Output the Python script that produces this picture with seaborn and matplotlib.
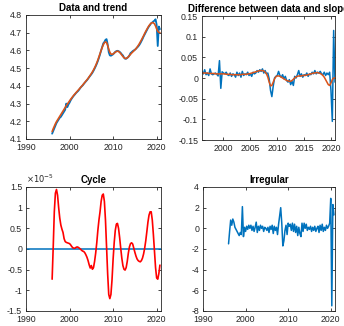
import numpy as np
import pandas as pd
import matplotlib
matplotlib.use("Agg")
import matplotlib.pyplot as plt
import seaborn as sns
from matplotlib.ticker import FuncFormatter, MultipleLocator

# Quarterly sample 1996Q1 - 2020Q4
quarter_time = 1996 + np.arange(100) / 4

log_data = [
    4.130, 4.145, 4.160, 4.175,
    4.190, 4.200, 4.210, 4.220,
    4.225, 4.235, 4.245, 4.255,
    4.265, 4.300, 4.280, 4.295,
    4.305, 4.318, 4.328, 4.337,
    4.345, 4.352, 4.360, 4.366,
    4.372, 4.380, 4.389, 4.396,
    4.402, 4.410, 4.418, 4.425,
    4.432, 4.440, 4.449, 4.457,
    4.465, 4.474, 4.485, 4.497,
    4.510, 4.524, 4.540, 4.558,
    4.578, 4.600, 4.620, 4.640,
    4.648, 4.660, 4.664, 4.635,
    4.590, 4.572, 4.570, 4.574,
    4.578, 4.585, 4.592, 4.596,
    4.598, 4.596, 4.592, 4.586,
    4.578, 4.572, 4.560, 4.553,
    4.553, 4.558, 4.563, 4.572,
    4.585, 4.590, 4.596, 4.600,
    4.604, 4.609, 4.616, 4.622,
    4.630, 4.640, 4.652, 4.664,
    4.678, 4.690, 4.702, 4.714,
    4.726, 4.736, 4.744, 4.754,
    4.758, 4.764, 4.768, 4.776,
    4.745, 4.625, 4.735, 4.720,
]

trend = [
    4.142, 4.158, 4.172, 4.186,
    4.198, 4.208, 4.218, 4.228,
    4.238, 4.248, 4.258, 4.268,
    4.278, 4.288, 4.297, 4.306,
    4.315, 4.324, 4.332, 4.340,
    4.348, 4.355, 4.362, 4.369,
    4.376, 4.383, 4.390, 4.397,
    4.404, 4.412, 4.419, 4.427,
    4.434, 4.442, 4.451, 4.460,
    4.469, 4.479, 4.490, 4.502,
    4.515, 4.530, 4.546, 4.564,
    4.582, 4.600, 4.617, 4.632,
    4.643, 4.648, 4.644, 4.628,
    4.607, 4.590, 4.580, 4.578,
    4.580, 4.585, 4.590, 4.594,
    4.596, 4.594, 4.589, 4.582,
    4.574, 4.566, 4.559, 4.555,
    4.555, 4.558, 4.564, 4.571,
    4.578, 4.585, 4.591, 4.597,
    4.603, 4.610, 4.618, 4.627,
    4.637, 4.648, 4.659, 4.671,
    4.683, 4.696, 4.708, 4.719,
    4.730, 4.740, 4.748, 4.754,
    4.757, 4.756, 4.750, 4.738,
    4.722, 4.708, 4.702, 4.700,
]

growth = [
    0.015, 0.010, 0.020, 0.008,
    0.012, 0.006, 0.022, 0.010,
    0.008, 0.010, 0.012, 0.009,
    0.005, 0.042, -0.025, 0.015,
    0.012, 0.010, 0.014, 0.008,
    0.006, 0.012, 0.004, 0.010,
    0.008, 0.002, 0.014, 0.006,
    0.012, 0.002, 0.016, 0.006,
    0.010, 0.008, 0.014, 0.006,
    0.010, 0.004, 0.014, 0.010,
    0.012, 0.018, 0.014, 0.020,
    0.016, 0.022, 0.012, 0.018,
    0.010, 0.012, -0.002, -0.030,
    -0.045, -0.020, 0.000, 0.004,
    0.006, 0.016, 0.006, 0.002,
    0.008, -0.002, 0.004, -0.006,
    -0.010, -0.004, -0.016, -0.008,
    -0.018, 0.004, 0.000, 0.008,
    0.018, 0.004, 0.010, 0.002,
    0.008, 0.006, 0.012, 0.004,
    0.010, 0.008, 0.014, 0.010,
    0.018, 0.010, 0.014, 0.012,
    0.016, 0.010, 0.008, 0.014,
    0.006, 0.012, 0.008, 0.014,
    -0.030, -0.105, 0.115, -0.010,
]

slope = [
    0.013, 0.012, 0.012, 0.012,
    0.012, 0.011, 0.011, 0.011,
    0.011, 0.011, 0.010, 0.010,
    0.010, 0.010, 0.010, 0.010,
    0.010, 0.010, 0.009, 0.009,
    0.009, 0.009, 0.008, 0.008,
    0.008, 0.008, 0.008, 0.008,
    0.008, 0.008, 0.009, 0.009,
    0.009, 0.009, 0.010, 0.010,
    0.011, 0.012, 0.013, 0.014,
    0.015, 0.016, 0.017, 0.018,
    0.018, 0.018, 0.017, 0.014,
    0.010, 0.002, -0.010, -0.019,
    -0.018, -0.010, -0.002, 0.003,
    0.005, 0.005, 0.004, 0.002,
    0.000, -0.002, -0.004, -0.006,
    -0.007, -0.008, -0.008, -0.006,
    -0.003, 0.000, 0.003, 0.004,
    0.005, 0.005, 0.005, 0.006,
    0.006, 0.007, 0.007, 0.008,
    0.009, 0.010, 0.011, 0.012,
    0.012, 0.013, 0.013, 0.012,
    0.011, 0.009, 0.006, 0.002,
    -0.004, -0.010, -0.016, -0.018,
    -0.012, -0.004, 0.000, 0.000,
]

# Cycle component, in units of 1e-5
cycle_e5 = [
    -0.73, 0.05, 0.90, 1.35,
    1.44, 1.30, 1.00, 0.75,
    0.58, 0.48, 0.40, 0.25,
    0.18, 0.16, 0.15, 0.14,
    0.13, 0.10, 0.06, 0.03,
    0.02, 0.02, 0.04, 0.05,
    0.04, 0.02, 0.00, -0.03,
    -0.05, -0.06, -0.09, -0.14,
    -0.20, -0.28, -0.38, -0.46,
    -0.40, -0.49, -0.45, -0.30,
    -0.10, 0.15, 0.45, 0.70,
    0.90, 1.15, 1.30, 1.33,
    1.15, 0.70, 0.05, -0.60,
    -1.10, -1.20, -1.10, -0.75,
    -0.25, 0.15, 0.45, 0.60,
    0.62, 0.50, 0.28, 0.02,
    -0.22, -0.40, -0.49, -0.51,
    -0.45, -0.30, -0.10, 0.05,
    0.13, 0.15, 0.12, 0.02,
    -0.08, -0.17, -0.24, -0.28,
    -0.30, -0.31, -0.28, -0.22,
    -0.12, 0.02, 0.20, 0.42,
    0.65, 0.82, 0.90, 0.90,
    0.70, 0.35, -0.05, -0.45,
    -0.70, -0.73, -0.60, -0.39,
]

irregular = [
    -1.5, -0.3, 0.8, 0.3,
    0.9, 0.6, 0.1, -0.1,
    -0.3, -0.5, -0.7, -0.4,
    -0.6, 2.1, -0.8, 0.1,
    -0.3, 0.2, -0.1, 0.3,
    0.0, 0.3, -0.2, 0.2,
    -0.3, 0.1, 0.6, -0.4,
    0.2, -0.2, 0.3, 0.0,
    0.2, -0.3, 0.1, 0.0,
    -0.2, 0.1, -0.4, 0.2,
    -0.1, 0.3, -0.5, 0.2,
    -0.2, 0.1, -0.6, 0.4,
    1.2, 2.0, 0.5, -1.7,
    -1.2, -0.2, 0.3, -0.6,
    0.5, 0.2, 0.4, -0.2,
    0.5, -0.3, 0.4, -0.4,
    0.2, -0.7, 0.1, -0.5,
    -0.8, 0.5, -0.3, 0.5,
    0.0, 0.4, -0.2, 0.1,
    -0.1, 0.2, -0.3, 0.1,
    -0.2, 0.2, -0.3, 0.0,
    0.2, -0.4, 0.3, -0.2,
    0.4, -0.3, 0.1, -0.2,
    0.3, 0.0, 0.2, 0.5,
    2.9, -7.5, 2.3, 1.3,
]

BLUE = "#0072BD"
ORANGE = "#D95319"
RED = "#FF0000"
AXCOL = "#262626"

sns.set_style("ticks")
plt.rcParams["font.family"] = ["Liberation Sans", "DejaVu Sans"]
plt.rcParams["axes.unicode_minus"] = False

df = pd.DataFrame({
    "t": quarter_time,
    "data": log_data,
    "trend": trend,
    "growth": growth,
    "slope": slope,
    "cycle": np.array(cycle_e5) * 1e-5,
    "irregular": irregular,
})

fig = plt.figure(figsize=(3.44, 3.26), dpi=100)
ax1 = fig.add_axes([26 / 344, 1 - 139 / 326, 135 / 344, 124 / 326])
ax2 = fig.add_axes([202 / 344, 1 - 140 / 326, 133 / 344, 124 / 326])
ax3 = fig.add_axes([26 / 344, 1 - 311 / 326, 135 / 344, 124 / 326])
ax4 = fig.add_axes([203 / 344, 1 - 311 / 326, 132 / 344, 124 / 326])

fmt = FuncFormatter(lambda v, p: "%g" % round(v, 6))


def style(ax, title):
    ax.set_title(title, fontsize=7, fontweight="bold", pad=3, color="black")
    ax.tick_params(direction="in", length=2.5, width=0.6, labelsize=6.3,
                   colors=AXCOL, top=True, right=True)
    ax.tick_params(axis="x", pad=3.2)
    ax.tick_params(axis="y", pad=2.8)
    for s in ax.spines.values():
        s.set_color(AXCOL)
        s.set_linewidth(0.6)
    ax.set_xlabel("")
    ax.set_ylabel("")


# Data and trend
sns.lineplot(data=df, x="t", y="data", ax=ax1, color=BLUE, lw=1.3)
sns.lineplot(data=df, x="t", y="trend", ax=ax1, color=ORANGE, lw=1.2)
ax1.set_xlim(1990, 2021)
ax1.set_ylim(4.1, 4.8)
ax1.xaxis.set_major_locator(MultipleLocator(10))
ax1.yaxis.set_major_locator(MultipleLocator(0.1))
ax1.yaxis.set_major_formatter(fmt)
style(ax1, "Data and trend")

# Growth vs. slope
sns.lineplot(data=df, x="t", y="growth", ax=ax2, color=BLUE, lw=1.1)
sns.lineplot(data=df, x="t", y="slope", ax=ax2, color=ORANGE, lw=1.1)
ax2.set_xlim(1996, 2020.75)
ax2.set_ylim(-0.15, 0.15)
ax2.xaxis.set_major_locator(MultipleLocator(5))
ax2.yaxis.set_major_locator(MultipleLocator(0.05))
ax2.yaxis.set_major_formatter(fmt)
style(ax2, "Difference between data and slope")

# Cycle
ax3.axhline(0, color=BLUE, lw=1.1, zorder=1)
sns.lineplot(data=df, x="t", y="cycle", ax=ax3, color=RED, lw=1.2)
ax3.set_xlim(1990, 2021)
ax3.set_ylim(-1.5e-5, 1.5e-5)
ax3.xaxis.set_major_locator(MultipleLocator(10))
ax3.yaxis.set_major_locator(MultipleLocator(0.5e-5))
ax3.yaxis.set_major_formatter(FuncFormatter(lambda v, p: "%g" % round(v * 1e5, 4)))
style(ax3, "Cycle")
ax3.text(0.0, 1.015, r"$\times10^{-5}$", transform=ax3.transAxes,
         fontsize=6, color=AXCOL, ha="left", va="bottom")

# Irregular
sns.lineplot(data=df, x="t", y="irregular", ax=ax4, color=BLUE, lw=1.1)
ax4.set_xlim(1990, 2021)
ax4.set_ylim(-8, 4)
ax4.xaxis.set_major_locator(MultipleLocator(10))
ax4.yaxis.set_major_locator(MultipleLocator(2))
ax4.yaxis.set_major_formatter(fmt)
style(ax4, "Irregular")

fig.savefig("out.png", dpi=100)
